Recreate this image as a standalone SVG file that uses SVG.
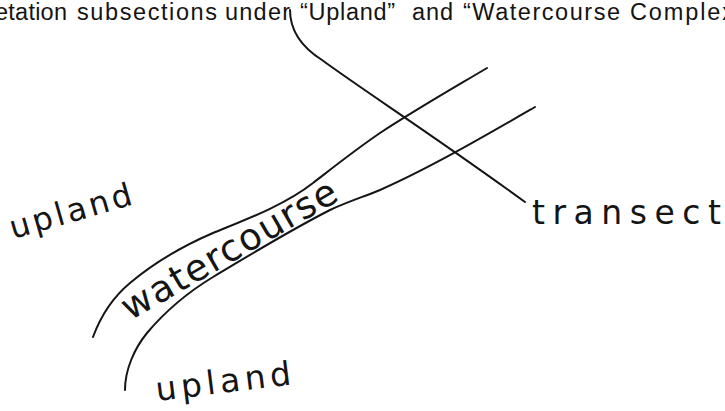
<svg xmlns="http://www.w3.org/2000/svg" width="725" height="411" viewBox="0 0 725 411">
<style>
.ink{fill:none;stroke:#151515;stroke-width:2;stroke-linecap:round;stroke-linejoin:round}
.hdr{font-family:"Liberation Sans",Arial,sans-serif;font-size:23.5px;fill:#141414}
.hand{font-family:"DejaVu Sans",sans-serif;fill:#151515}
</style>
<rect width="725" height="411" fill="#ffffff"/>
<g id="header">
<text class="hdr" x="-5" y="20" textLength="72" lengthAdjust="spacing">etation</text>
<text class="hdr" x="77" y="20" textLength="140" lengthAdjust="spacing">subsections</text>
<text class="hdr" x="225" y="20" textLength="65" lengthAdjust="spacing">under</text>
<text class="hdr" x="300" y="20" textLength="95" lengthAdjust="spacing">“Upland”</text>
<text class="hdr" x="412" y="20" textLength="41" lengthAdjust="spacing">and</text>
<text class="hdr" x="463" y="20" textLength="157" lengthAdjust="spacing">“Watercourse</text>
<text class="hdr" x="630" y="20" textLength="104" lengthAdjust="spacing">Complex</text>
</g>
<g id="connectors">
<path id="transect-line" class="ink" d="M290,10 C290,28 300,46 322,60 C360,88 440,140 525,202"/>
<path id="upper-bank" class="ink" d="M93,337 C100,318 112,298 130,283 C155,262 185,245 213,233 C245,220 285,205 313,183 C335,166 355,150 380,133 C415,110 450,90 487,68"/>
<path id="lower-bank" class="ink" d="M125,390 C125,370 134,349 147,333 C168,308 190,291 213,277 C245,258 285,233 330,210 C347,202 363,197 380,190 C430,168 490,133 535,107"/>
</g>
<g id="label-upland-top">
<text class="hand" font-size="32" x="13" y="239" textLength="126" lengthAdjust="spacing" transform="rotate(-16 13 239)">upland</text>
</g>
<g id="label-watercourse">
<text class="hand" font-size="37" x="130" y="321" textLength="243" lengthAdjust="spacing" transform="rotate(-30 130 321)">watercourse</text>
</g>
<g id="label-transect">
<text class="hand" font-size="33" x="532" y="224" textLength="189" lengthAdjust="spacing">transect</text>
</g>
<g id="label-upland-bottom">
<text class="hand" font-size="33" x="157" y="401" textLength="136" lengthAdjust="spacing" transform="rotate(-7 157 401)">upland</text>
</g>
</svg>
